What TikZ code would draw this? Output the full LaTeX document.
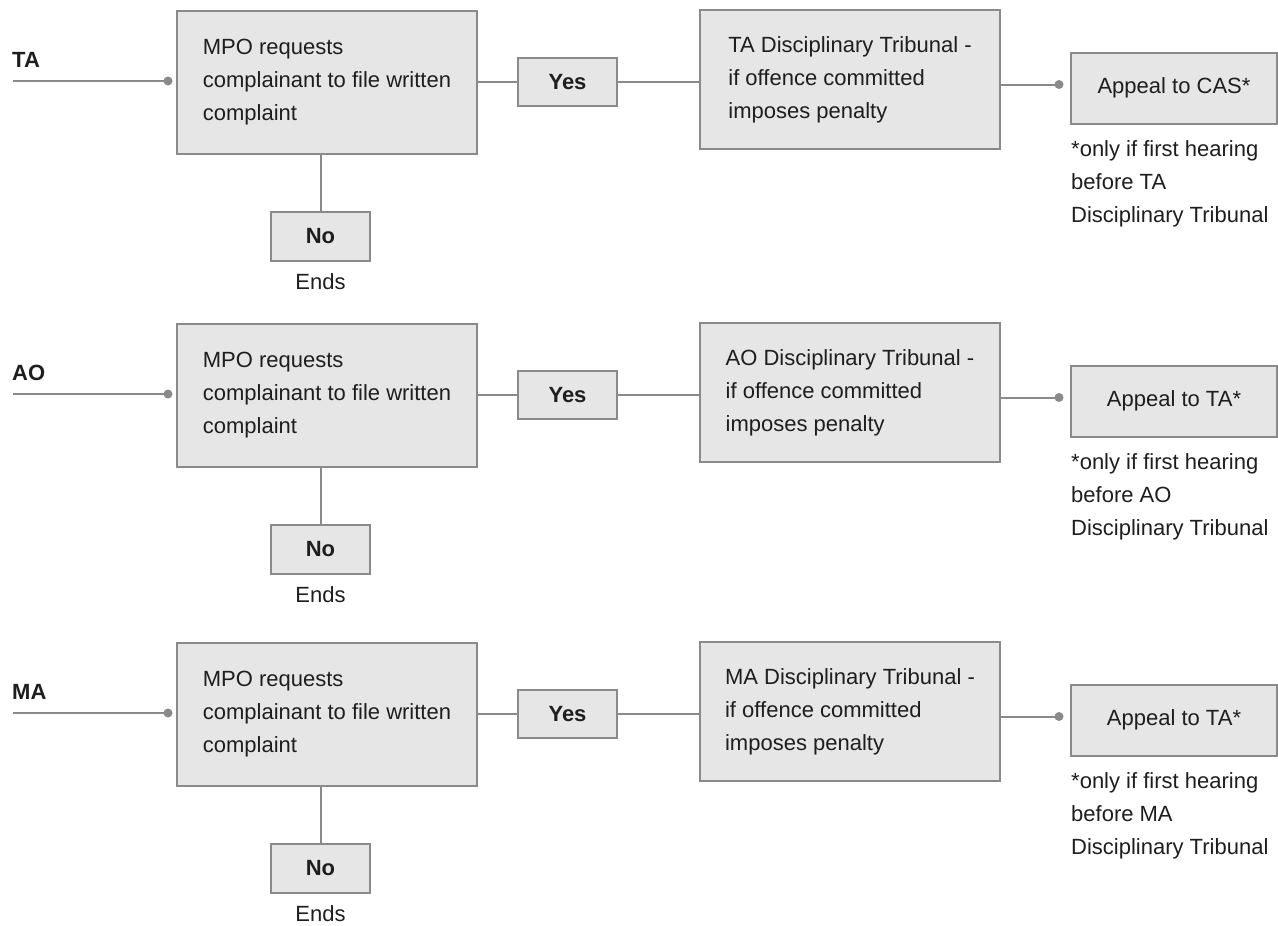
\documentclass[tikz,border=0pt]{standalone}
\usepackage{fontspec}
\setmainfont{Liberation Sans}
\definecolor{boxfill}{HTML}{E6E6E6}
\definecolor{boxline}{HTML}{8A8A8A}
\definecolor{ink}{HTML}{1E1E1E}
\begin{document}
\begin{tikzpicture}[x=1pt,y=-1pt,
  every node/.style={text=ink, font=\fontsize{22}{33}\selectfont},
  box/.style={draw=boxline, line width=2pt, fill=boxfill, inner sep=0pt, align=left},
  boldbox/.style={box, font=\fontsize{22}{33}\selectfont\bfseries},
  link/.style={draw=boxline, line width=2pt},
  knob/.style={circle, fill=boxline, inner sep=0pt, minimum size=9pt},
  tag/.style={font=\fontsize{22}{33}\selectfont\bfseries, inner sep=0pt, anchor=west}
]
\useasboundingbox (0,0) rectangle (1278,926);

\foreach \L/\org/\dest in {81/TA/CAS, 394/AO/TA, 713/MA/TA} {
  % entry line with its knob
  \node[tag] (lbl-\org) at (12,\L-21) {\org};
  \coordinate (src-\org) at (13,\L);
  \node[knob] (pin-\org) at (168,\L) {};
  \draw[link] (src-\org) -- (pin-\org.center);

  % request for a written complaint
  \node[box, minimum width=300pt, minimum height=143pt] (mpo-\org) at (327,\L+1.5)
    {MPO requests\\complainant to file written\\complaint};

  % yes branch
  \node[boldbox, minimum width=99pt, minimum height=48pt] (yes-\org) at (567.5,\L+1)
    {Yes};
  \node[box, minimum width=300pt, minimum height=139pt] (dt-\org) at (850,\L-1.5)
    {\org{} Disciplinary Tribunal -\\if offence committed\\imposes penalty};
  \draw[link] (mpo-\org.east |- yes-\org.west) -- (yes-\org.west);
  \draw[link] (yes-\org.east) -- (yes-\org.east -| dt-\org.west);

  % appeal
  \node[knob] (pin2-\org) at (1059,\L+3.5) {};
  \node[box, minimum width=206pt, minimum height=71pt] (app-\org) at (1174,\L+7)
    {Appeal to \dest*};
  \draw[link] (dt-\org.east |- pin2-\org) -- (pin2-\org.center);
  \node[anchor=north west, inner sep=0pt, align=left] (note-\org) at (1071,\L+59)
    {*only if first hearing\\before \org\\Disciplinary Tribunal};

  % no branch
  \node[boldbox, minimum width=99pt, minimum height=49pt] (no-\org) at (320.5,\L+155.5)
    {No};
  \node[inner sep=0pt] (end-\org) at (320.5,\L+201) {Ends};
  \draw[link] (no-\org.north) -- (no-\org.north |- mpo-\org.south);
}
\end{tikzpicture}
\end{document}
